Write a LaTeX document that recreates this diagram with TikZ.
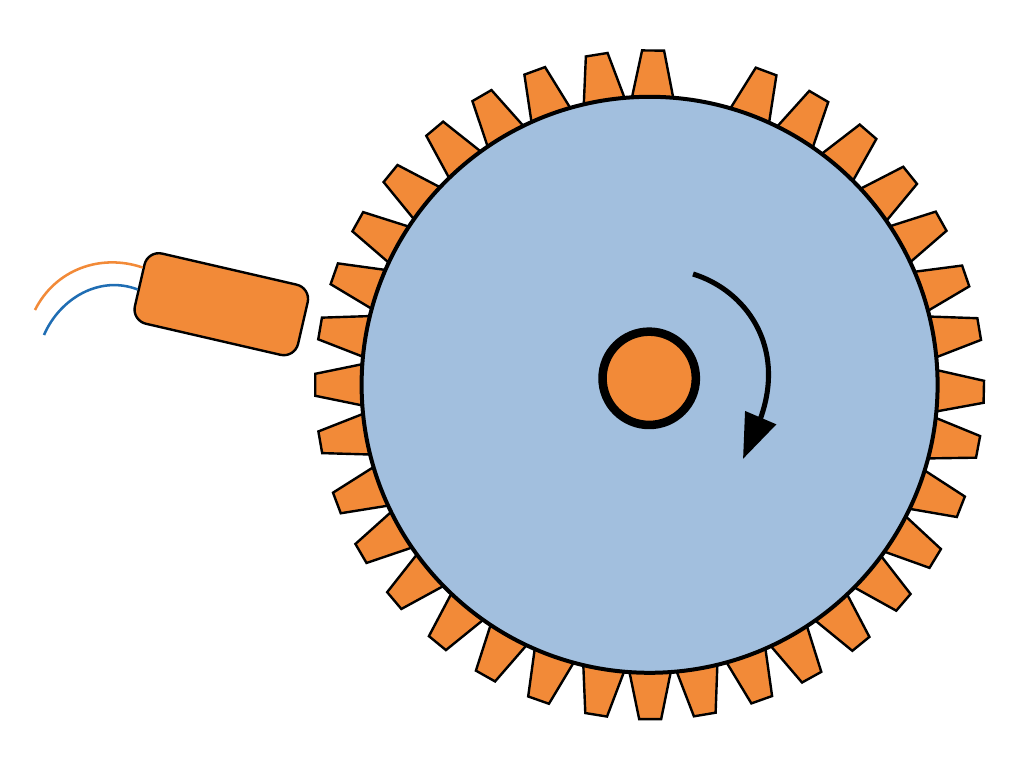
\documentclass[tikz,border=0pt]{standalone}
\usetikzlibrary{arrows.meta}
\definecolor{partorange}{HTML}{F28A38}
\definecolor{wheelblue}{HTML}{A2BFDE}
\definecolor{wireblue}{HTML}{1F6DB3}
\tikzset{
	toothshape/.style={draw=black, fill=partorange, line width=1.8pt, line join=miter},
	wheelshape/.style={circle, draw=black, fill=wheelblue, line width=3pt, minimum size=432pt, inner sep=0pt},
	hubshape/.style={circle, draw=black, fill=partorange, line width=6.4pt, minimum size=70pt, inner sep=0pt},
	sensorshape/.style={draw=black, fill=partorange, line width=1.8pt, rectangle, rounded corners=11pt,
		minimum width=125.6pt, minimum height=54pt, inner sep=0pt, rotate=-13},
	wire/.style={line width=1.9pt}
}
\begin{document}
\begin{tikzpicture}[x=0.75pt, y=0.75pt]
	\useasboundingbox (-649.6,-376.2) rectangle (374.4,384.8);
	% teeth, one is left out near 80 degrees
	\foreach \a in {89.4,99.1,110.1,120.1,130.0,140.8,150.8,160.6,170.3,180,
		189.9,200.7,210.3,220.2,230.6,240.6,250.6,260.8,270.1,279.5,289.6,299,
		309.2,319.4,328.7,338.6,349.3,358.8,9.6,19.0,29.3,38.8,49.2,59.6,69.6}
		\draw[toothshape, rotate=\a] (285,-21.1) -- (334.3,-11) -- (334.3,11) -- (285,21.1) -- cycle;
	\node[wheelshape] (wheel) at (0,0) {};
	\node[hubshape] (hub) at (-0.4,6.5) {};
	% rotation arrow
	\coordinate (arrowstart) at (43.4,110.8);
	\coordinate (arrowbase) at (111.4,-32.2);
	\coordinate (arrowtip) at (93.4,-74.2);
	\draw[line width=3.8pt, -{Triangle[length=33.75pt, width=24.5pt]}] (arrowstart)
		.. controls (95.4,94.8) and (136.4,39.8) .. (arrowbase) -- (arrowtip);
	% sensor and its wires
	\node[sensorshape] (sensor) at (-428.3,80.6) {};
	\coordinate (orangeend) at (-614.6,74.8);
	\coordinate (blueend) at (-605.6,49.8);
	\draw[wire, partorange] (orangeend) .. controls (-594.6,114.8) and (-549.6,131.8) .. (sensor.168);
	\draw[wire, wireblue] (blueend) .. controls (-589.6,86.8) and (-549.6,109.8) .. (sensor.183);
\end{tikzpicture}
\end{document}
